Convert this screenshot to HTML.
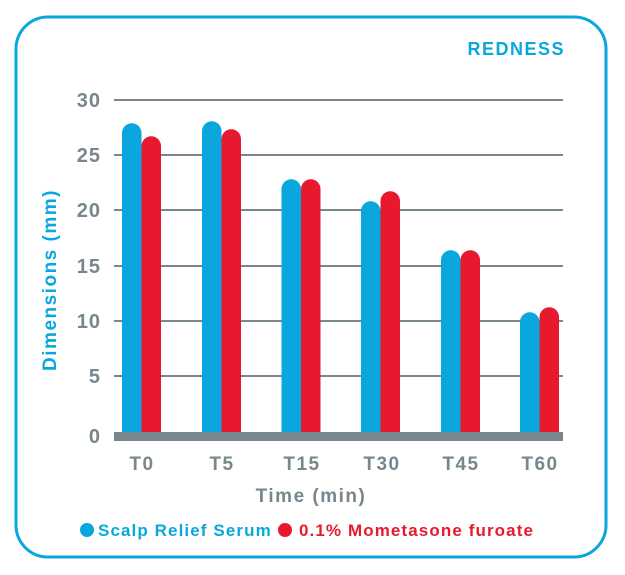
<!DOCTYPE html>
<html><head><style>body{margin:0;background:#fff}svg{display:block}text{font-family:"Liberation Sans",sans-serif;font-weight:bold}</style></head><body>
<svg width="625" height="575" viewBox="0 0 625 575">
<rect x="16" y="17" width="590" height="540" rx="32" fill="#fff" stroke="#0aa7de" stroke-width="3"/>
<text x="565" y="55" text-anchor="end" fill="#0aa7de" font-size="18" letter-spacing="1.5">REDNESS</text>
<g stroke="#78868e" stroke-width="2">
<line x1="114" y1="100" x2="563" y2="100"/><line x1="114" y1="155" x2="563" y2="155"/>
<line x1="114" y1="210" x2="563" y2="210"/><line x1="114" y1="266" x2="563" y2="266"/>
<line x1="114" y1="321" x2="563" y2="321"/><line x1="114" y1="376" x2="563" y2="376"/>
</g>
<g fill="#78868e" font-size="20" text-anchor="end" letter-spacing="1">
<text x="101" y="107">30</text><text x="101" y="162">25</text><text x="101" y="217">20</text>
<text x="101" y="273">15</text><text x="101" y="328">10</text><text x="101" y="383">5</text><text x="101" y="443">0</text>
</g>
<g id="bars">
<path d="M122 432V133a9.75 9.75 0 0 1 19.5 0V432Z" fill="#0aa7de"/>
<path d="M141.5 432V146a9.75 9.75 0 0 1 19.5 0V432Z" fill="#e8192f"/>
<path d="M202 432V131a9.75 9.75 0 0 1 19.5 0V432Z" fill="#0aa7de"/>
<path d="M221.5 432V139a9.75 9.75 0 0 1 19.5 0V432Z" fill="#e8192f"/>
<path d="M281.5 432V189a9.75 9.75 0 0 1 19.5 0V432Z" fill="#0aa7de"/>
<path d="M301 432V189a9.75 9.75 0 0 1 19.5 0V432Z" fill="#e8192f"/>
<path d="M361 432V211a9.75 9.75 0 0 1 19.5 0V432Z" fill="#0aa7de"/>
<path d="M380.5 432V201a9.75 9.75 0 0 1 19.5 0V432Z" fill="#e8192f"/>
<path d="M441 432V260a9.75 9.75 0 0 1 19.5 0V432Z" fill="#0aa7de"/>
<path d="M460.5 432V260a9.75 9.75 0 0 1 19.5 0V432Z" fill="#e8192f"/>
<path d="M520 432V322a9.75 9.75 0 0 1 19.5 0V432Z" fill="#0aa7de"/>
<path d="M539.5 432V317a9.75 9.75 0 0 1 19.5 0V432Z" fill="#e8192f"/>
</g>
<rect x="114" y="432" width="449" height="9" fill="#78868e"/>
<g fill="#78868e" font-size="19" text-anchor="middle" letter-spacing="1.5">
<text x="142" y="470">T0</text><text x="222" y="470">T5</text><text x="302" y="470">T15</text>
<text x="382" y="470">T30</text><text x="461" y="470">T45</text><text x="540" y="470">T60</text>
<text x="311" y="502">Time (min)</text>
</g>
<text transform="translate(56,280) rotate(-90)" text-anchor="middle" fill="#0aa7de" font-size="19" letter-spacing="1.5">Dimensions (mm)</text>
<circle cx="87" cy="530" r="7" fill="#0aa7de"/>
<text x="98" y="536" fill="#0aa7de" font-size="17" letter-spacing="1.1">Scalp Relief Serum</text>
<circle cx="285" cy="530" r="7" fill="#e8192f"/>
<text x="299" y="536" fill="#e8192f" font-size="17" letter-spacing="1.1">0.1% Mometasone furoate</text>
</svg>
</body></html>
